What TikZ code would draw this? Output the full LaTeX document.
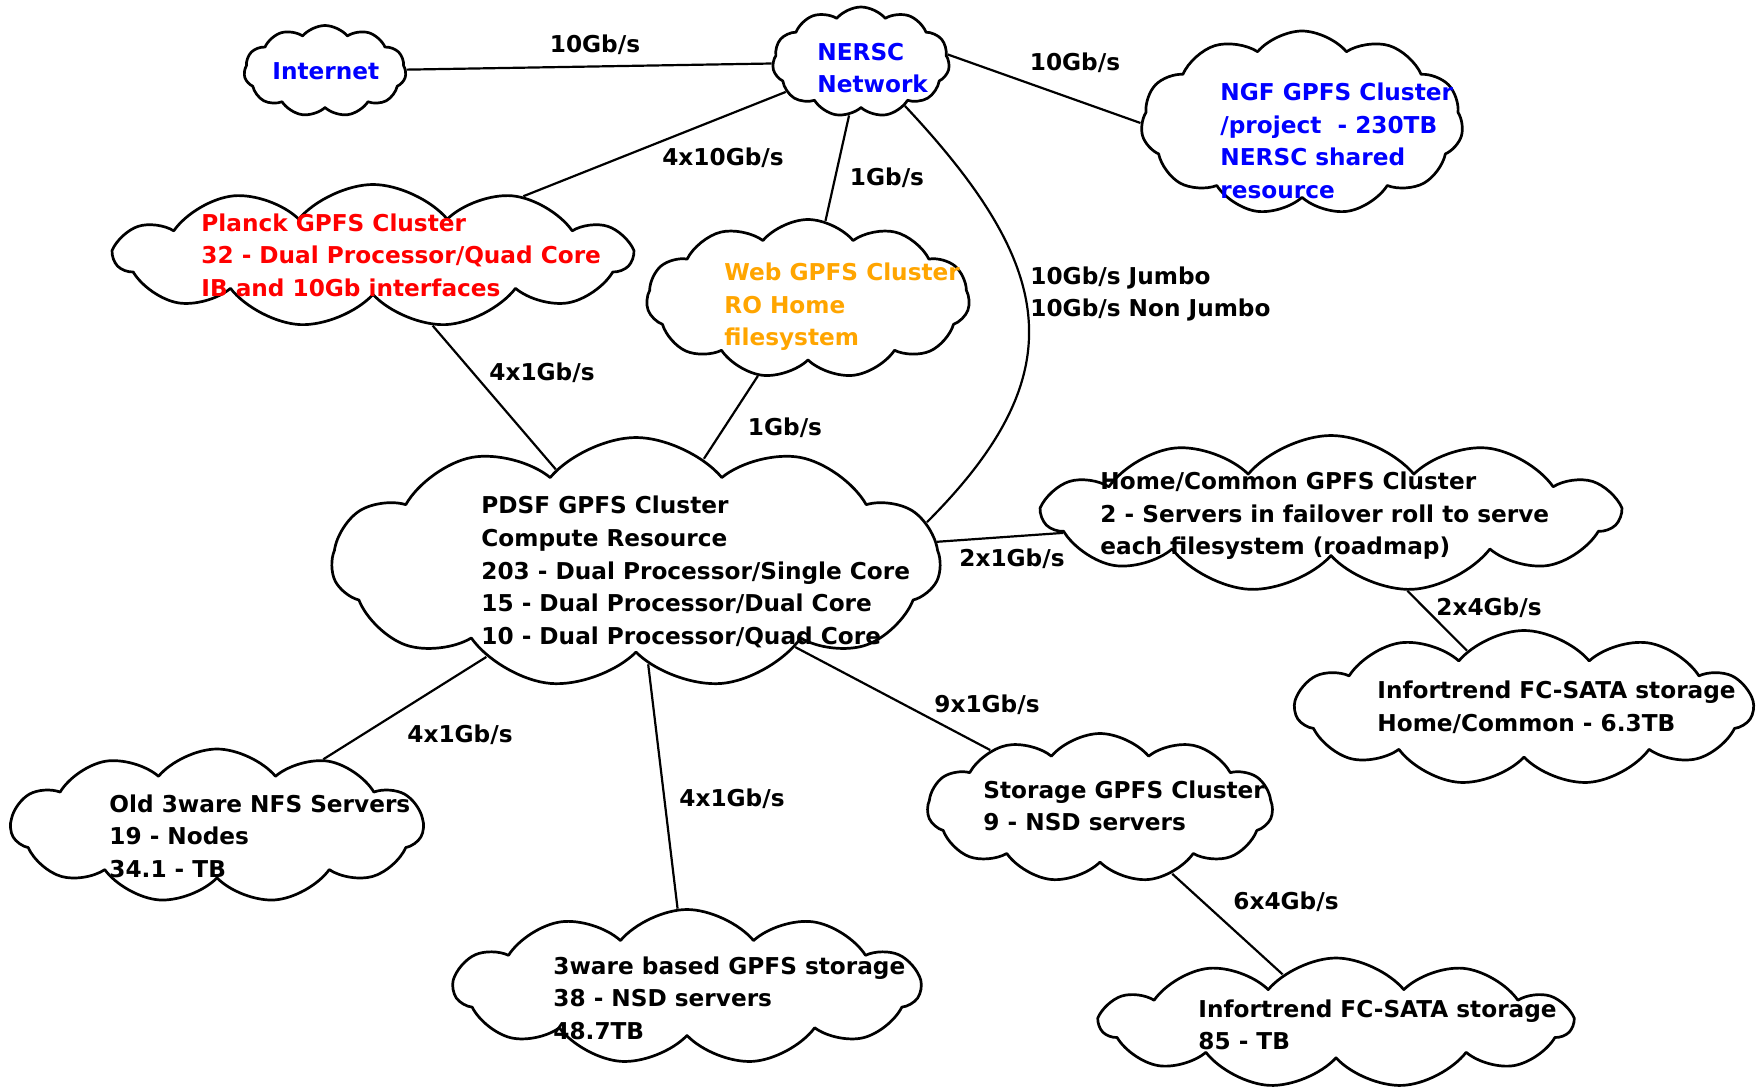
\documentclass[tikz,border=0pt]{standalone}
\usepackage{fontspec}
\setmainfont{DejaVu Sans}
\usepackage{xcolor}
\usepackage{tikz}
\usetikzlibrary{backgrounds,shapes.symbols}
\definecolor{netBlue}{HTML}{0000FF}
\definecolor{netRed}{HTML}{FF0000}
\definecolor{netOrange}{HTML}{FFA500}
\definecolor{netInk}{HTML}{000000}
\tikzset{
  net diagram/.style={x=0.5pt, y=-0.5pt, font=\bfseries\fontsize{11.6}{16.3}\selectfont,
    text=netInk, line cap=round, line join=round},
  net cloud/.style={cloud, cloud puffs=11, cloud puff arc=100, cloud ignores aspect,
    draw=netInk, fill=white, line width=1.35pt, inner sep=0pt},
  net text/.style={align=left, anchor=west, inner sep=0pt},
  net link/.style={draw=netInk, line width=1.1pt},
  net label/.style={inner sep=1pt}
}

\begin{document}
\begin{tikzpicture}[net diagram]
\useasboundingbox (0,0) rectangle (1760,1088);
% clouds
\node[net cloud, minimum width=81pt, minimum height=45.5pt] (internet) at (325,71) {};
\node[net cloud, minimum width=88.5pt, minimum height=55pt] (nersc) at (861,62) {};
\node[net cloud, minimum width=161pt, minimum height=92pt] (ngf) at (1302,123) {};
\node[net cloud, minimum width=258pt, minimum height=71.5pt] (planck) at (373,256) {};
\node[net cloud, minimum width=161.5pt, minimum height=79.5pt] (web) at (808,299) {};
\node[net cloud, minimum width=304pt, minimum height=125.5pt] (pdsf) at (636,563) {};
\node[net cloud, minimum width=287.5pt, minimum height=78.5pt] (home) at (1331,514) {};
\node[net cloud, minimum width=228.5pt, minimum height=77.5pt] (home store) at (1524,708) {};
\node[net cloud, minimum width=206pt, minimum height=77pt] (old nfs) at (217,826) {};
\node[net cloud, minimum width=172.5pt, minimum height=74.5pt] (storage) at (1100,808) {};
\node[net cloud, minimum width=233pt, minimum height=77.5pt] (gpfs store) at (687,987) {};
\node[net cloud, minimum width=235.5pt, minimum height=65pt] (fc store) at (1336,1023) {};
% cloud texts
\node[net text, text=netBlue] (internet text) at (272,71) {Internet};
\node[net text, text=netBlue] (nersc text) at (817,68) {NERSC\\Network};
\node[net text, text=netBlue] (ngf text) at (1220,141) {NGF GPFS Cluster\\/project\ \ - 230TB\\NERSC shared\\resource};
\node[net text, text=netRed] (planck text) at (201,255) {Planck GPFS Cluster\\32 - Dual Processor/Quad Core\\IB and 10Gb interfaces};
\node[net text, text=netOrange] (web text) at (724,307) {Web GPFS Cluster\\RO Home\\filesystem};
\node[net text] (pdsf text) at (481,572) {PDSF GPFS Cluster\\Compute Resource\\203 - Dual Processor/Single Core\\15 - Dual Processor/Dual Core\\10 - Dual Processor/Quad Core};
\node[net text] (home text) at (1100,516) {Home/Common GPFS Cluster\\2 - Servers in failover roll to serve\\each filesystem (roadmap)};
\node[net text] (home store text) at (1377,707) {Infortrend FC-SATA storage\\Home/Common - 6.3TB};
\node[net text] (old nfs text) at (109,836) {Old 3ware NFS Servers\\19 - Nodes\\34.1 - TB};
\node[net text] (storage text) at (983,806) {Storage GPFS Cluster\\9 - NSD servers};
\node[net text] (gpfs store text) at (553,998) {3ware based GPFS storage\\38 - NSD servers\\48.7TB};
\node[net text] (fc store text) at (1198,1025) {Infortrend FC-SATA storage\\85 - TB};
% links, kept behind the clouds
\begin{scope}[on background layer]
\draw[net link] (internet) -- (nersc);
\draw[net link] (nersc.5) -- (ngf.west);
\draw[net link] (nersc) -- (planck);
\draw[net link] (nersc) -- (web);
\draw[net link] (nersc.-45) .. controls +(150,160) and +(150,-150) .. (pdsf.8);
\draw[net link] (planck) -- (pdsf);
\draw[net link] (web) -- (pdsf);
\draw[net link] (pdsf) -- (home);
\draw[net link] (home) -- (home store);
\draw[net link] (pdsf) -- (old nfs);
\draw[net link] (pdsf) -- (gpfs store);
\draw[net link] (pdsf) -- (storage);
\draw[net link] (storage) -- (fc store);
\end{scope}
% link labels
\foreach \x/\y/\rate in {595/45/{10Gb/s},1075/63/{10Gb/s},723/158/{4x10Gb/s},887/178/{1Gb/s},
  542/373/{4x1Gb/s},785/428/{1Gb/s},1012/559/{2x1Gb/s},1489/608/{2x4Gb/s},
  460/735/{4x1Gb/s},732/799/{4x1Gb/s},987/705/{9x1Gb/s},1286/902/{6x4Gb/s}}{
  \node[net label] at (\x,\y) {\rate};
}
\node[net text] (jumbo) at (1030,294) {10Gb/s Jumbo\\10Gb/s Non Jumbo};
\end{tikzpicture}
\end{document}
